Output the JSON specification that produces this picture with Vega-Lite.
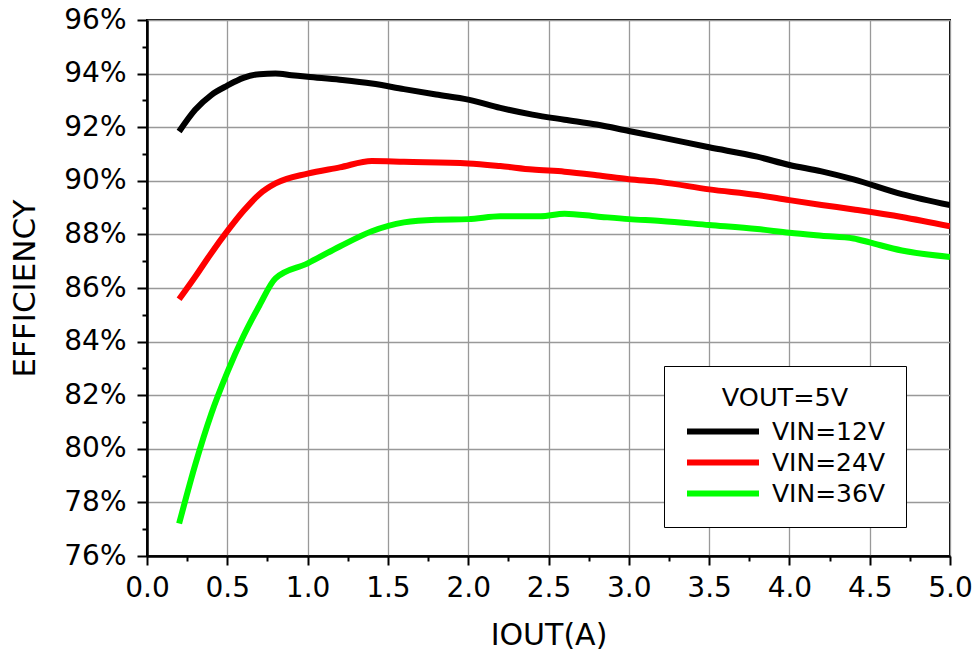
{
  "$schema": "https://vega.github.io/schema/vega-lite/v6.json",
  "autosize": "none",
  "width": 803,
  "height": 536,
  "padding": {"left": 147, "top": 20, "right": 28, "bottom": 99},
  "background": "white",
  "config": {
    "view": {"stroke": "black", "strokeWidth": 2},
    "font": "DejaVu Sans",
    "axis": {
      "labelFont": "DejaVu Sans",
      "labelFontSize": 28,
      "labelColor": "black",
      "titleFont": "DejaVu Sans",
      "titleFontSize": 30,
      "titleFontWeight": "normal",
      "titleColor": "black",
      "domainColor": "black",
      "domainWidth": 2.5,
      "tickColor": "black",
      "tickWidth": 2,
      "gridColor": "#999999",
      "gridWidth": 1.3
    },
    "legend": {
      "labelFont": "DejaVu Sans",
      "titleFont": "DejaVu Sans"
    }
  },
  "data": {
    "values": [
      {"x": 0.2, "y": 91.84, "s": "VIN=12V"},
      {"x": 0.3, "y": 92.65, "s": "VIN=12V"},
      {"x": 0.4, "y": 93.2, "s": "VIN=12V"},
      {"x": 0.5, "y": 93.55, "s": "VIN=12V"},
      {"x": 0.6, "y": 93.84, "s": "VIN=12V"},
      {"x": 0.7, "y": 93.98, "s": "VIN=12V"},
      {"x": 0.8, "y": 94.0, "s": "VIN=12V"},
      {"x": 0.9, "y": 93.94, "s": "VIN=12V"},
      {"x": 1.0, "y": 93.88, "s": "VIN=12V"},
      {"x": 1.2, "y": 93.77, "s": "VIN=12V"},
      {"x": 1.4, "y": 93.63, "s": "VIN=12V"},
      {"x": 1.6, "y": 93.42, "s": "VIN=12V"},
      {"x": 1.8, "y": 93.22, "s": "VIN=12V"},
      {"x": 2.0, "y": 93.03, "s": "VIN=12V"},
      {"x": 2.2, "y": 92.72, "s": "VIN=12V"},
      {"x": 2.4, "y": 92.47, "s": "VIN=12V"},
      {"x": 2.6, "y": 92.28, "s": "VIN=12V"},
      {"x": 2.8, "y": 92.1, "s": "VIN=12V"},
      {"x": 3.0, "y": 91.86, "s": "VIN=12V"},
      {"x": 3.2, "y": 91.62, "s": "VIN=12V"},
      {"x": 3.5, "y": 91.25, "s": "VIN=12V"},
      {"x": 3.8, "y": 90.9, "s": "VIN=12V"},
      {"x": 4.0, "y": 90.59, "s": "VIN=12V"},
      {"x": 4.2, "y": 90.35, "s": "VIN=12V"},
      {"x": 4.4, "y": 90.05, "s": "VIN=12V"},
      {"x": 4.7, "y": 89.5, "s": "VIN=12V"},
      {"x": 5.0, "y": 89.09, "s": "VIN=12V"},

      {"x": 0.2, "y": 85.58, "s": "VIN=24V"},
      {"x": 0.3, "y": 86.42, "s": "VIN=24V"},
      {"x": 0.4, "y": 87.3, "s": "VIN=24V"},
      {"x": 0.5, "y": 88.12, "s": "VIN=24V"},
      {"x": 0.6, "y": 88.87, "s": "VIN=24V"},
      {"x": 0.7, "y": 89.5, "s": "VIN=24V"},
      {"x": 0.8, "y": 89.9, "s": "VIN=24V"},
      {"x": 1.0, "y": 90.27, "s": "VIN=24V"},
      {"x": 1.2, "y": 90.5, "s": "VIN=24V"},
      {"x": 1.4, "y": 90.74, "s": "VIN=24V"},
      {"x": 1.6, "y": 90.71, "s": "VIN=24V"},
      {"x": 2.0, "y": 90.65, "s": "VIN=24V"},
      {"x": 2.2, "y": 90.55, "s": "VIN=24V"},
      {"x": 2.4, "y": 90.42, "s": "VIN=24V"},
      {"x": 2.6, "y": 90.34, "s": "VIN=24V"},
      {"x": 2.8, "y": 90.21, "s": "VIN=24V"},
      {"x": 3.0, "y": 90.06, "s": "VIN=24V"},
      {"x": 3.2, "y": 89.95, "s": "VIN=24V"},
      {"x": 3.5, "y": 89.68, "s": "VIN=24V"},
      {"x": 3.8, "y": 89.47, "s": "VIN=24V"},
      {"x": 4.0, "y": 89.28, "s": "VIN=24V"},
      {"x": 4.2, "y": 89.1, "s": "VIN=24V"},
      {"x": 4.4, "y": 88.93, "s": "VIN=24V"},
      {"x": 4.7, "y": 88.65, "s": "VIN=24V"},
      {"x": 5.0, "y": 88.3, "s": "VIN=24V"},

      {"x": 0.2, "y": 77.21, "s": "VIN=36V"},
      {"x": 0.3, "y": 79.4, "s": "VIN=36V"},
      {"x": 0.4, "y": 81.3, "s": "VIN=36V"},
      {"x": 0.5, "y": 82.85, "s": "VIN=36V"},
      {"x": 0.6, "y": 84.2, "s": "VIN=36V"},
      {"x": 0.7, "y": 85.35, "s": "VIN=36V"},
      {"x": 0.8, "y": 86.36, "s": "VIN=36V"},
      {"x": 1.0, "y": 86.92, "s": "VIN=36V"},
      {"x": 1.2, "y": 87.55, "s": "VIN=36V"},
      {"x": 1.4, "y": 88.12, "s": "VIN=36V"},
      {"x": 1.6, "y": 88.45, "s": "VIN=36V"},
      {"x": 1.8, "y": 88.55, "s": "VIN=36V"},
      {"x": 2.0, "y": 88.57, "s": "VIN=36V"},
      {"x": 2.2, "y": 88.68, "s": "VIN=36V"},
      {"x": 2.45, "y": 88.68, "s": "VIN=36V"},
      {"x": 2.6, "y": 88.77, "s": "VIN=36V"},
      {"x": 2.8, "y": 88.67, "s": "VIN=36V"},
      {"x": 3.0, "y": 88.57, "s": "VIN=36V"},
      {"x": 3.2, "y": 88.5, "s": "VIN=36V"},
      {"x": 3.5, "y": 88.35, "s": "VIN=36V"},
      {"x": 3.8, "y": 88.2, "s": "VIN=36V"},
      {"x": 4.0, "y": 88.06, "s": "VIN=36V"},
      {"x": 4.2, "y": 87.95, "s": "VIN=36V"},
      {"x": 4.4, "y": 87.85, "s": "VIN=36V"},
      {"x": 4.5, "y": 87.7, "s": "VIN=36V"},
      {"x": 4.7, "y": 87.4, "s": "VIN=36V"},
      {"x": 5.0, "y": 87.16, "s": "VIN=36V"}
    ]
  },
  "mark": {"type": "line", "strokeWidth": 6, "strokeCap": "butt", "strokeJoin": "round", "interpolate": "monotone", "clip": true},
  "encoding": {
    "x": {
      "field": "x",
      "type": "quantitative",
      "scale": {"domain": [0, 5], "nice": false, "zero": false},
      "axis": {
        "title": "IOUT(A)",
        "values": [0, 0.25, 0.5, 0.75, 1, 1.25, 1.5, 1.75, 2, 2.25, 2.5, 2.75, 3, 3.25, 3.5, 3.75, 4, 4.25, 4.5, 4.75, 5],
        "labelExpr": "datum.value % 0.5 == 0 ? format(datum.value, '.1f') : ''",
        "tickSize": {"expr": "datum.value % 0.5 == 0 ? 9 : 5"},
        "gridOpacity": {"expr": "datum.value % 0.5 == 0 ? 1 : 0"},
        "labelPadding": 9,
        "labelFlush": false,
        "labelOverlap": false,
        "titlePadding": 18
      }
    },
    "y": {
      "field": "y",
      "type": "quantitative",
      "scale": {"domain": [76, 96], "nice": false, "zero": false},
      "axis": {
        "title": "EFFICIENCY",
        "titleFontSize": 31,
        "values": [76, 77, 78, 79, 80, 81, 82, 83, 84, 85, 86, 87, 88, 89, 90, 91, 92, 93, 94, 95, 96],
        "labelExpr": "datum.value % 2 == 0 ? datum.value + '%' : ''",
        "tickSize": {"expr": "datum.value % 2 == 0 ? 10 : 5"},
        "gridOpacity": {"expr": "datum.value % 2 == 0 ? 1 : 0"},
        "labelPadding": 11,
        "labelFlush": false,
        "labelOverlap": false,
        "titlePadding": 22
      }
    },
    "color": {
      "field": "s",
      "type": "nominal",
      "scale": {"domain": ["VIN=12V", "VIN=24V", "VIN=36V"], "range": ["#000000", "#ff0000", "#00ff00"]},
      "legend": {
        "title": "VOUT=5V",
        "orient": "none",
        "legendX": 517,
        "legendY": 346,
        "symbolType": "M-3,0H3",
        "symbolSize": 576,
        "symbolStrokeWidth": 6,
        "symbolOffset": 24,
        "labelFontSize": 25,
        "labelColor": "black",
        "labelOffset": 34,
        "titleFontSize": 25.5,
        "titleFontWeight": "normal",
        "titleColor": "black",
        "titleAnchor": "middle",
        "titlePadding": 5,
        "rowPadding": 3,
        "padding": 20,
        "strokeColor": "black",
        "fillColor": "white",
        "cornerRadius": 0
      }
    }
  }
}
